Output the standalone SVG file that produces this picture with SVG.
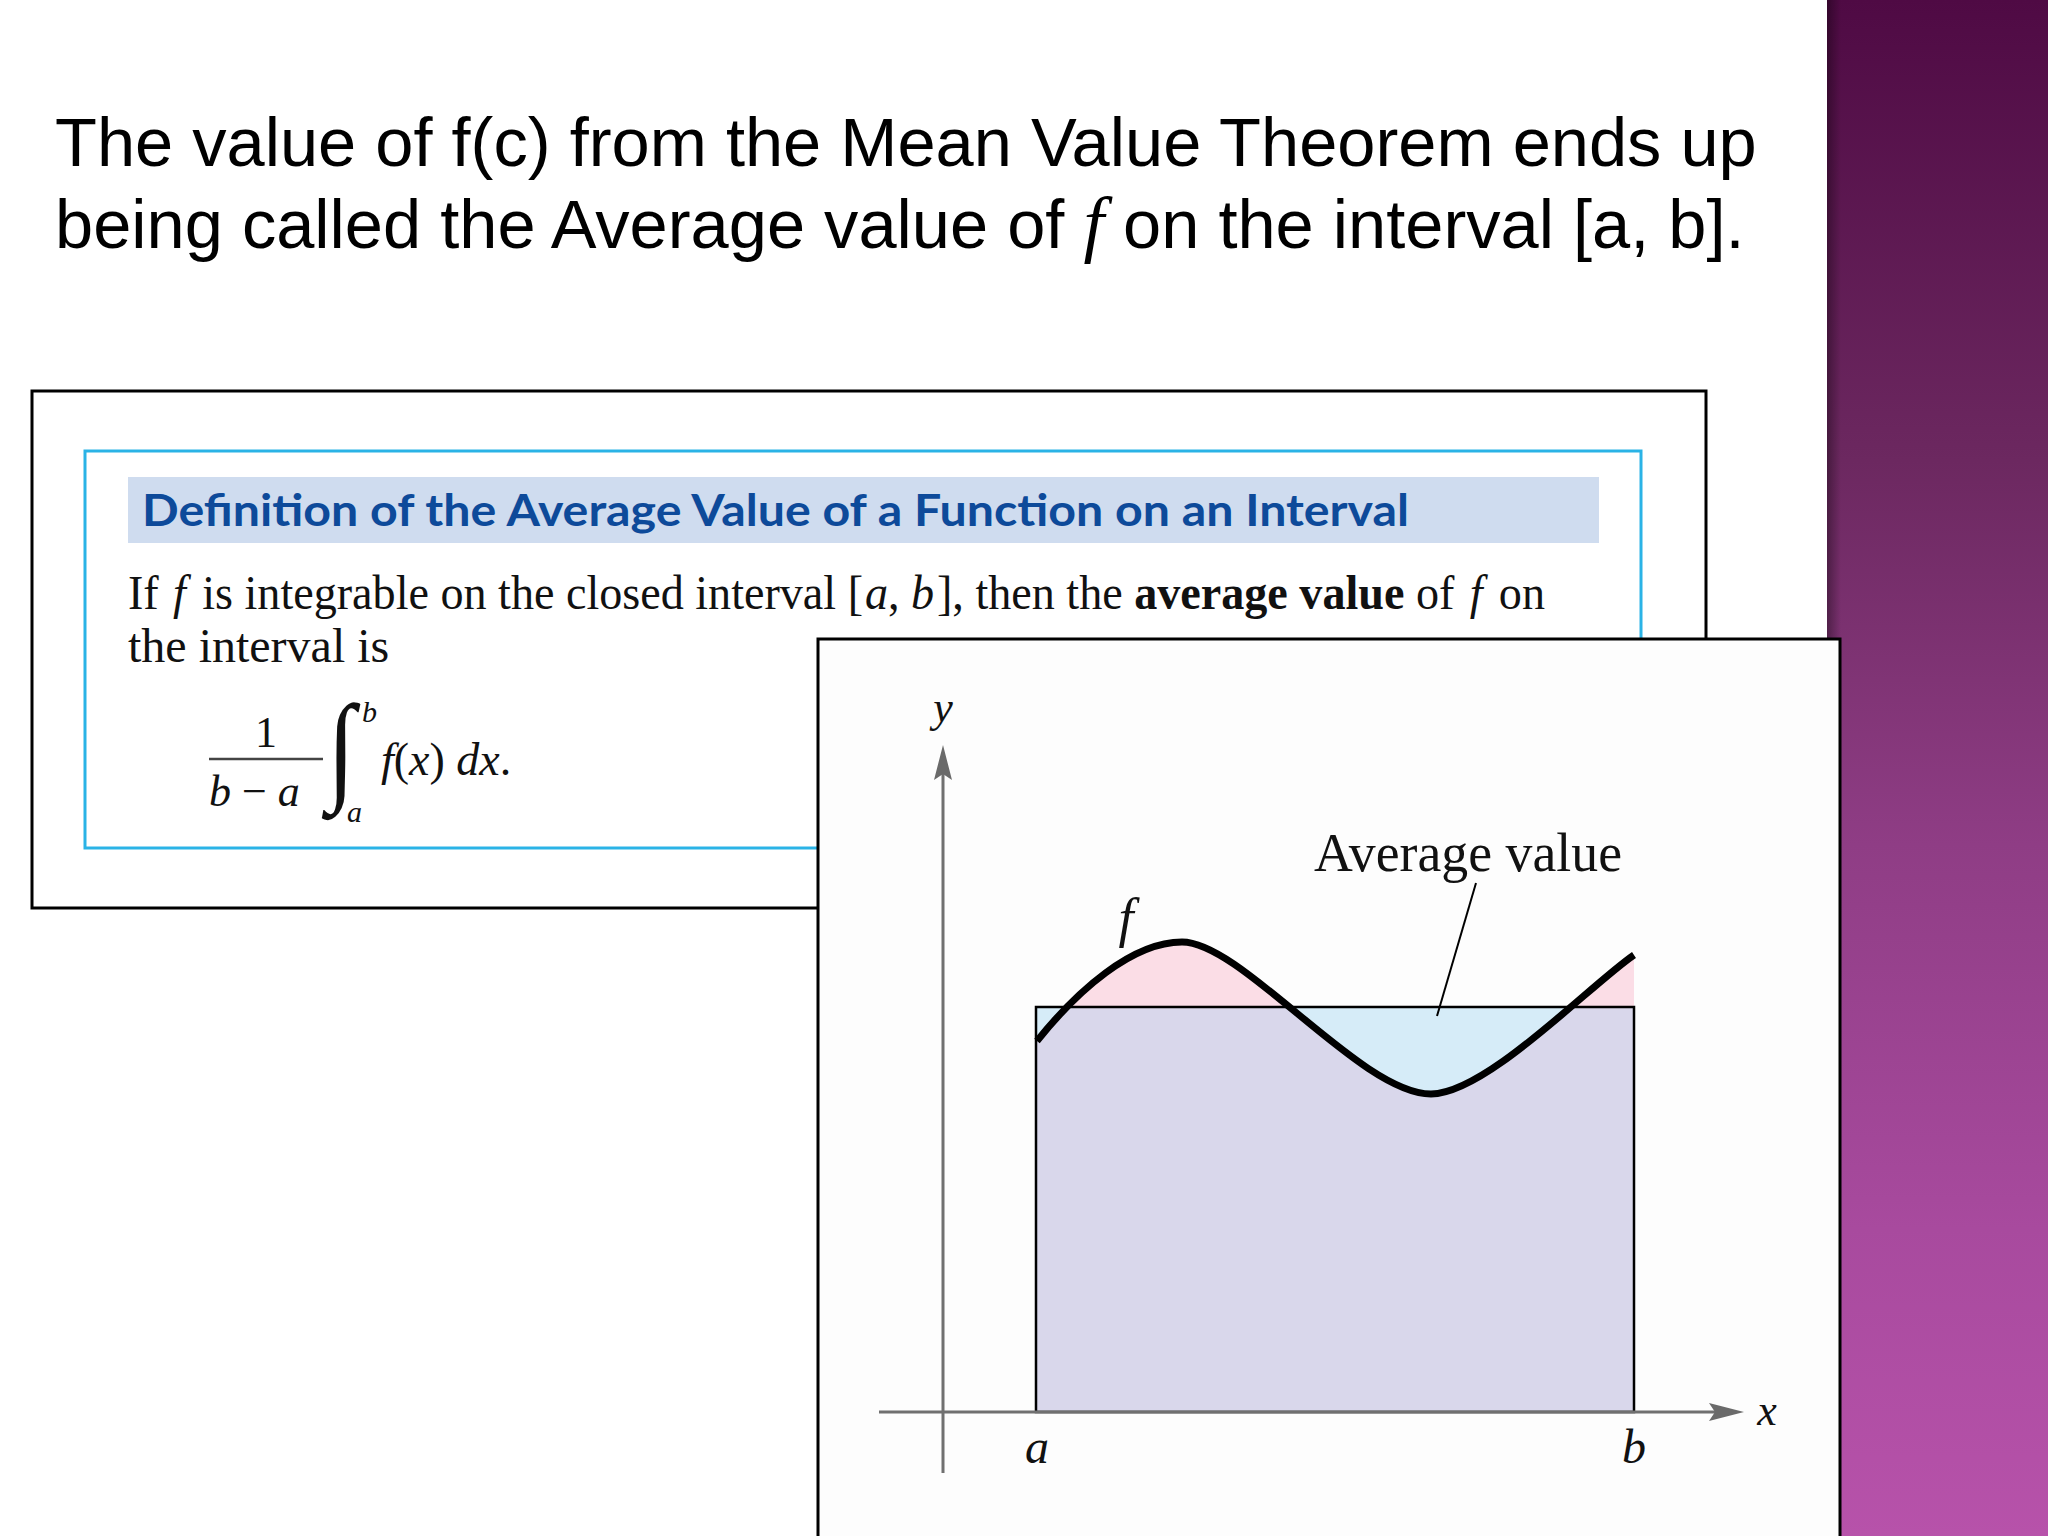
<svg xmlns="http://www.w3.org/2000/svg" width="2048" height="1536" viewBox="0 0 2048 1536">
<defs>
<linearGradient id="band" x1="0" y1="0" x2="0" y2="1">
<stop offset="0" stop-color="#4f0a44"/>
<stop offset="0.3" stop-color="#6c2860"/>
<stop offset="0.55" stop-color="#8f3d85"/>
<stop offset="0.8" stop-color="#a84a9e"/>
<stop offset="1" stop-color="#b752aa"/>
</linearGradient>
<linearGradient id="edge" x1="0" y1="0" x2="1" y2="0">
<stop offset="0" stop-color="#000" stop-opacity="0.35"/>
<stop offset="1" stop-color="#000" stop-opacity="0"/>
</linearGradient>
<clipPath id="above"><rect x="1000" y="900" width="700" height="107"/></clipPath>
<clipPath id="below"><rect x="1000" y="1007" width="700" height="200"/></clipPath>
<style>
.title{font-family:"Liberation Sans",Arial,sans-serif;font-size:68.6px;fill:#000}
.serif{font-family:"Liberation Serif","Times New Roman",serif;fill:#111}
.it{font-style:italic}
.head{font-family:Lato,"Open Sans",sans-serif;font-weight:bold;font-size:43px;fill:#0d4a9a}
.axis{stroke:#707070;stroke-width:3;fill:none}
.arrow{fill:#6a6a6a}
</style>
</defs>
<rect width="2048" height="1536" fill="#ffffff"/>
<g id="side-band">
<rect x="1827" y="0" width="221" height="1536" fill="url(#band)"/>
<rect x="1827" y="0" width="14" height="1536" fill="url(#edge)"/>
</g>
<g id="title">
<text class="title" x="55" y="166">The value of f(c) from the Mean Value Theorem ends up</text>
<text class="title" x="55" y="248">being called the Average value of <tspan font-family="Liberation Serif,serif" font-style="italic" font-size="74">f</tspan> on the interval [a, b].</text>
</g>
<g id="definition-box">
<rect x="32" y="391" width="1674" height="517" fill="#ffffff" stroke="#000" stroke-width="3"/>
<rect x="85" y="451" width="1556" height="397" fill="#ffffff" stroke="#2ab3e6" stroke-width="3"/>
<rect x="128" y="477" width="1471" height="66" fill="#cfdcef"/>
<text class="head" x="142" y="526" textLength="1267" lengthAdjust="spacingAndGlyphs">Definition of the Average Value of a Function on an Interval</text>
<text class="serif" x="128" y="609" font-size="48" textLength="1417" lengthAdjust="spacingAndGlyphs">If <tspan class="it" dx="3">f</tspan><tspan dx="5"> is integrable on the closed interval [</tspan><tspan class="it" dx="2">a</tspan>, <tspan class="it">b</tspan><tspan dx="3">], then the </tspan><tspan font-weight="bold">average value</tspan> of <tspan class="it" dx="4">f</tspan><tspan dx="5"> on</tspan></text>
<text class="serif" x="128" y="662" font-size="48">the interval is</text>
</g>
<g id="formula">
<text class="serif" x="266" y="747" font-size="44" text-anchor="middle">1</text>
<line x1="209" y1="759" x2="323" y2="759" stroke="#444" stroke-width="2.5"/>
<text class="serif" x="209" y="806" font-size="44"><tspan class="it">b</tspan> − <tspan class="it">a</tspan></text>
<text class="serif" x="0" y="0" font-size="120" transform="translate(327,788) scale(0.85,1)">∫</text>
<text class="serif it" x="362" y="722" font-size="30">b</text>
<text class="serif it" x="347" y="822" font-size="30">a</text>
<text class="serif" x="381" y="775" font-size="46"><tspan class="it">f</tspan>(<tspan class="it">x</tspan>) <tspan class="it">dx</tspan>.</text>
</g>
<g id="graph-box">
<rect x="818" y="639" width="1022" height="910" fill="#fdfdfd" stroke="#000" stroke-width="3"/>
</g>
<g id="regions">
<rect x="1036" y="1007" width="598" height="405" fill="#d9d7eb"/>
<path d="M1037 1041 C1077 991 1132 942 1182 942 C1242 942 1361 1094 1431 1094 C1486 1094 1590 985 1634 955 L1634 1007 L1037 1007 Z" fill="#fbdde6" clip-path="url(#above)"/>
<path d="M1037 1041 C1077 991 1132 942 1182 942 C1242 942 1361 1094 1431 1094 C1486 1094 1590 985 1634 955 L1634 1007 L1037 1007 Z" fill="#d6ecf8" clip-path="url(#below)"/>
<rect x="1036" y="1007" width="598" height="405" fill="none" stroke="#000" stroke-width="2.5"/>
</g>
<g id="axes">
<line class="axis" x1="943" y1="1473" x2="943" y2="770"/>
<polygon class="arrow" points="943,745 952,780 943,774 934,780"/>
<line class="axis" x1="879" y1="1412" x2="1720" y2="1412"/>
<polygon class="arrow" points="1744,1412 1709,1421 1715,1412 1709,1403"/>
</g>
<g id="curve-f">
<path d="M1037 1041 C1077 991 1132 942 1182 942 C1242 942 1361 1094 1431 1094 C1486 1094 1590 985 1634 955" fill="none" stroke="#000" stroke-width="7"/>
</g>
<g id="connectors">
<line x1="1476" y1="883" x2="1437" y2="1016" stroke="#000" stroke-width="2"/>
</g>
<g id="labels">
<text class="serif it" x="943" y="722" font-size="44" text-anchor="middle">y</text>
<text class="serif it" x="1767" y="1425" font-size="44" text-anchor="middle">x</text>
<text class="serif it" x="1037" y="1463" font-size="48" text-anchor="middle">a</text>
<text class="serif it" x="1634" y="1463" font-size="48" text-anchor="middle">b</text>
<text class="serif it" x="1126" y="936" font-size="54" text-anchor="middle">f</text>
<text class="serif" x="1314" y="871" font-size="55" textLength="308" lengthAdjust="spacingAndGlyphs">Average value</text>
</g>
</svg>
